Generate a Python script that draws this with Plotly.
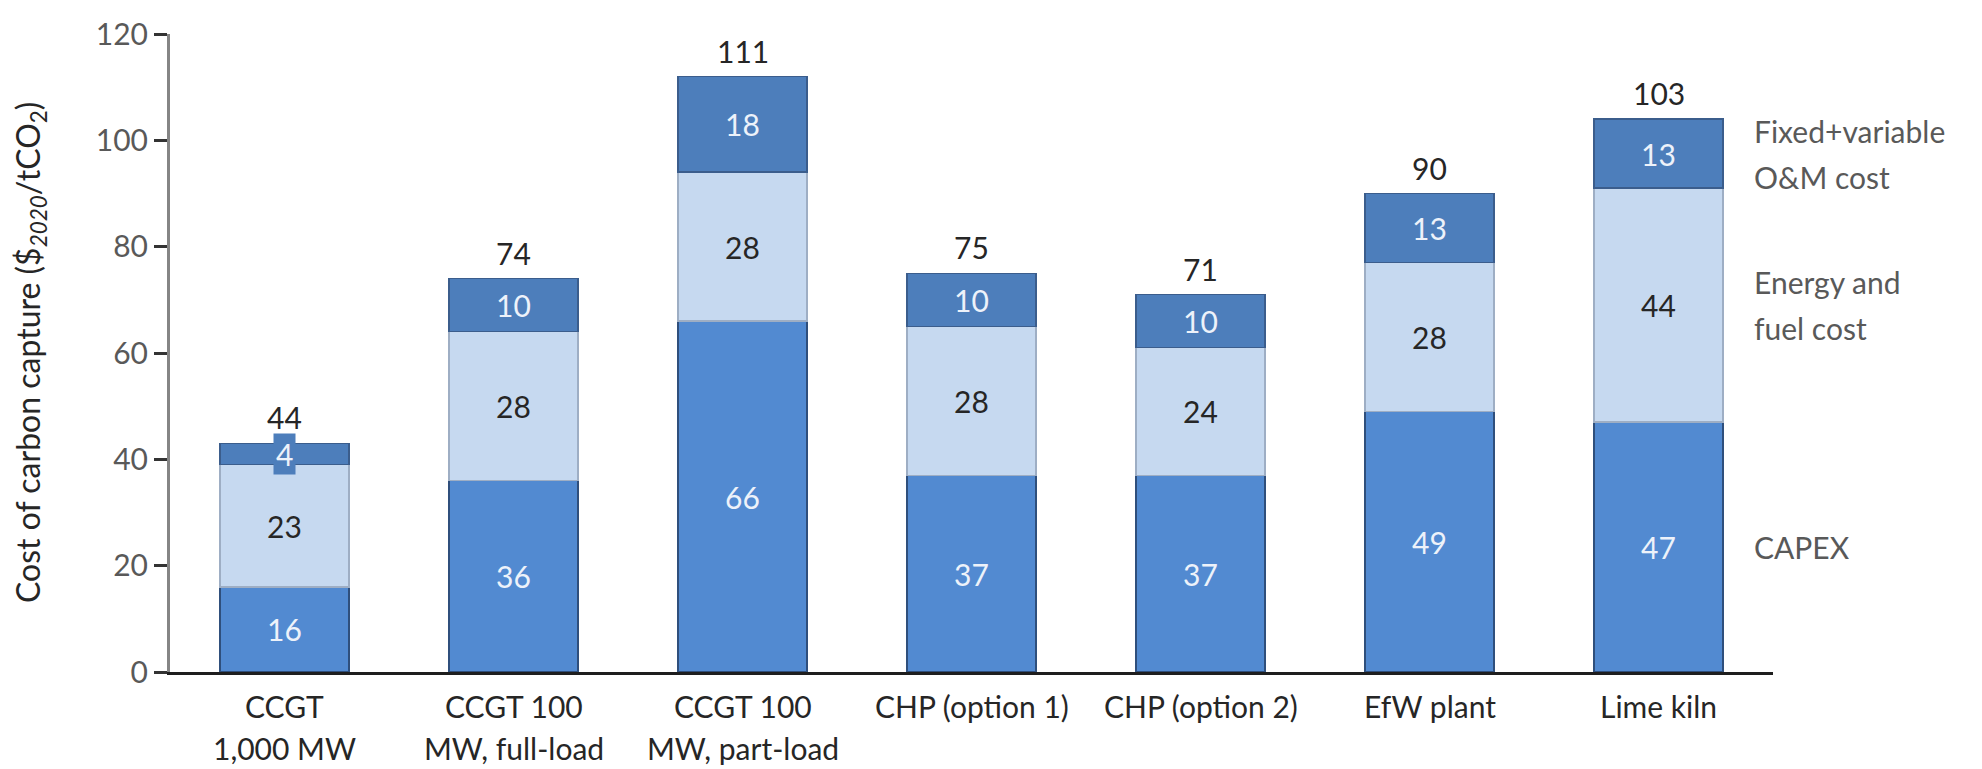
import plotly.graph_objects as go

# Cost of carbon capture by plant type, split into cost components
categories = [
    "CCGT<br>1,000 MW",
    "CCGT 100<br>MW, full-load",
    "CCGT 100<br>MW, part-load",
    "CHP (option 1)",
    "CHP (option 2)",
    "EfW plant",
    "Lime kiln",
]
capex = [16, 36, 66, 37, 37, 49, 47]
energy_fuel = [23, 28, 28, 28, 24, 28, 44]
om_cost = [4, 10, 18, 10, 10, 13, 13]
totals = [44, 74, 111, 75, 71, 90, 103]

series_names = ["CAPEX", "Energy and<br>fuel cost", "Fixed+variable<br>O&M cost"]
y_ticks = [0, 20, 40, 60, 80, 100, 120]

FONT = "Lato, Carlito, Calibri, sans-serif"
FS = 30
LINE_GAP = 46      # pixel spacing between wrapped series-label lines
CAT_GAP = 42       # pixel spacing between wrapped category-label lines
C_CAPEX = "#528ad1"
C_ENERGY = "#c6d9f0"
C_OM = "#4d7ebb"
TXT_DARK = "#262626"
TXT_GREY = "#595959"
TXT_LIGHT = "#edf2fa"

fig = go.Figure()

fig.add_trace(go.Bar(
    x=categories, y=capex, name=series_names[0],
    marker=dict(color=C_CAPEX, line=dict(color="#2f4f7c", width=1.5)),
    text=[str(v) for v in capex], textposition="inside",
    insidetextanchor="middle", textangle=0,
    textfont=dict(family=FONT, size=FS, color=TXT_LIGHT),
))
fig.add_trace(go.Bar(
    x=categories, y=energy_fuel, name=series_names[1],
    marker=dict(color=C_ENERGY, line=dict(color="#9eaec4", width=1.5)),
    text=[str(v) for v in energy_fuel], textposition="inside",
    insidetextanchor="middle", textangle=0,
    textfont=dict(family=FONT, size=FS, color=TXT_DARK),
))
# small segments get their label as a boxed annotation instead
om_text = [str(v) if v >= 6 else "" for v in om_cost]
fig.add_trace(go.Bar(
    x=categories, y=om_cost, name=series_names[2],
    marker=dict(color=C_OM, line=dict(color="#3b5d8c", width=1.5)),
    text=om_text, textposition="inside",
    insidetextanchor="middle", textangle=0,
    textfont=dict(family=FONT, size=FS, color=TXT_LIGHT),
))

annotations = []
for i, cat in enumerate(categories):
    stack_top = capex[i] + energy_fuel[i] + om_cost[i]
    annotations.append(dict(
        x=cat, y=stack_top, xref="x", yref="y",
        text=str(totals[i]), showarrow=False,
        yanchor="bottom", yshift=6,
        font=dict(family=FONT, size=FS, color=TXT_DARK),
    ))
    if om_cost[i] < 6:
        annotations.append(dict(
            x=cat, y=capex[i] + energy_fuel[i] + om_cost[i] / 2,
            xref="x", yref="y", text=str(om_cost[i]), showarrow=False,
            bgcolor=C_OM, borderpad=2,
            font=dict(family=FONT, size=FS, color=TXT_LIGHT),
        ))
    # category label, one annotation per line for wider line spacing
    for k, line in enumerate(cat.split("<br>")):
        annotations.append(dict(
            x=cat, y=0, xref="x", yref="paper",
            text=line, showarrow=False,
            yanchor="middle", yshift=-34 - k * CAT_GAP,
            font=dict(family=FONT, size=FS, color=TXT_DARK),
        ))

# series labels placed beside the last bar's segments
last = len(categories) - 1
mids = [
    capex[last] / 2,
    capex[last] + energy_fuel[last] / 2,
    capex[last] + energy_fuel[last] + om_cost[last] / 2,
]
for name, ym in zip(series_names, mids):
    lines = name.split("<br>")
    n = len(lines)
    for k, line in enumerate(lines):
        annotations.append(dict(
            x=1, y=ym, xref="paper", yref="y", xshift=-21,
            xanchor="left", yanchor="middle", align="left",
            yshift=((n - 1) / 2 - k) * LINE_GAP,
            text=line, showarrow=False,
            font=dict(family=FONT, size=FS, color=TXT_GREY),
        ))

# rotated axis title
annotations.append(dict(
    x=0, y=0.5, xref="paper", yref="paper", xshift=-140,
    xanchor="center", yanchor="middle", textangle=-90,
    text="Cost of carbon capture ($<sub><i>2020</i></sub>/tCO<sub>2</sub>)",
    showarrow=False,
    font=dict(family=FONT, size=FS + 2, color=TXT_DARK),
))

fig.update_layout(
    barmode="stack",
    bargap=0.437,
    width=1982, height=769,
    margin=dict(l=170, r=209, t=34, b=97, pad=0),
    paper_bgcolor="white", plot_bgcolor="white",
    showlegend=False,
    annotations=annotations,
    uniformtext=dict(minsize=FS, mode="show"),
    font=dict(family=FONT, size=FS, color=TXT_GREY),
)
fig.update_xaxes(
    showline=True, linecolor="#1e1e1e", linewidth=3,
    ticks="", showgrid=False, zeroline=False, showticklabels=False,
)
fig.update_yaxes(
    range=[0, 120], tickvals=y_ticks,
    showline=True, linecolor="#858585", linewidth=3,
    ticks="outside", ticklen=13, tickwidth=3, tickcolor="#333333",
    showgrid=False, zeroline=False,
    tickfont=dict(family=FONT, size=FS, color=TXT_GREY),
)

fig.write_html("out.html")
